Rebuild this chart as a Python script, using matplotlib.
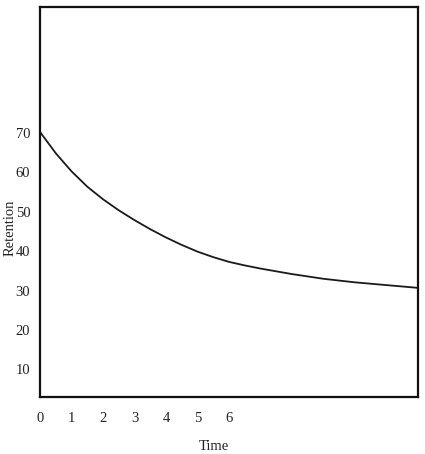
import matplotlib
matplotlib.use("Agg")
import matplotlib.pyplot as plt

time = [0, 0.5, 1, 1.5, 2, 2.5, 3, 3.5, 4, 4.5, 5, 5.5, 6, 6.5, 7, 8, 9, 10, 11, 12]
retention = [70.3, 64.9, 60.3, 56.4, 53.2, 50.4, 47.9, 45.6, 43.5, 41.6, 39.9, 38.5,
             37.3, 36.4, 35.6, 34.2, 33.0, 32.1, 31.4, 30.7]
xticks = [0, 1, 2, 3, 4, 5, 6]
yticks = [10, 20, 30, 40, 50, 60, 70]

plt.rcParams['font.family'] = ['Liberation Serif', 'DejaVu Serif']

fig = plt.figure(figsize=(4.25, 4.54), dpi=100)
ax = fig.add_axes([0.094, 0.1256, 0.8895, 0.859])
ax.plot(time, retention, color='#1a1a1a', lw=1.3, solid_joinstyle='round')
ax.set_xlim(0, 12)
ax.set_ylim(3, 102)
ax.set_xticks(xticks)
ax.set_yticks(yticks)
ax.tick_params(axis='both', length=0, labelsize=10.5, colors='#222222')
ax.tick_params(axis='x', pad=11)
ax.tick_params(axis='y', pad=7)
for s in ax.spines.values():
    s.set_linewidth(1.6)
    s.set_color('#111111')
ax.set_ylabel('Retention', fontsize=10.5, color='#222222')
ax.yaxis.set_label_coords(-0.062, 0.433)
ax.set_xlabel('Time', fontsize=10.5, color='#222222')
ax.xaxis.set_label_coords(0.46, -0.11)
fig.savefig('out.png', dpi=100)
